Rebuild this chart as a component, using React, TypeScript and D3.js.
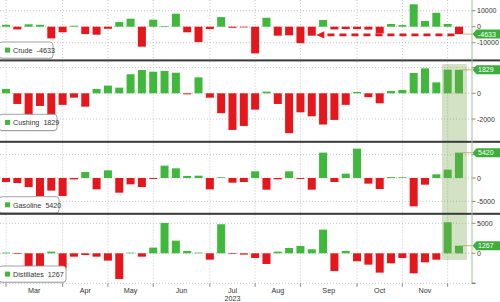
import React from "react";
import * as d3 from "d3";

// ---- data (weekly changes, thousand barrels) ----
const firstWeek = "2023-02-24";
const crude = [1200, -1700, 1500, 1200, -7300, -3500, 600, -4600, -5000, -1300, 2900, 5000, -12500, 4400, 300, 8100, -3500, -9600, -1500, 6000, -700, -300, -16700, 5600, -5600, -5400, -10300, -5600, 4200, -1700, -1500, -1500, -1800, -4200, 1700, 1000, 14000, 3600, 8700, 1700, -4633];
const cushing = [340, -830, -1700, -985, -1700, -900, -340, -1040, 340, 600, 440, 1480, 1810, 1680, 1740, 1600, -80, 1240, -340, -1550, -2850, -2540, -1270, 130, -830, -3100, -1480, -1790, -2430, -2070, -900, 100, -300, -780, 180, 260, 1580, 1940, 850, 1840, 1829];
const gasoline = [-860, -1070, -1930, -3850, -2700, -3850, -290, 1290, -2430, 1640, -3140, -1360, -1930, -200, 2640, 2070, 430, 500, -2430, 100, -1000, -860, 1430, -2500, -290, 1430, -200, -2500, 5430, -860, 930, 6280, -1210, -2360, 200, 50, -6070, -1430, 790, 1790, 5420];
const distillates = [100, -100, -2700, -2700, 280, -2500, -560, -280, -560, -1220, -4280, 50, -560, 950, 5060, 2110, 390, 50, -1060, 4840, -50, -220, -780, -1780, 280, 890, 1220, 670, 3950, -2950, 390, -1330, -1890, -3220, -1670, -780, -3340, -1500, -1060, 5170, 1267];

const seriesNames = ["Crude", "Cushing", "Gasoline", "Distillates"];
const lastLabels = ["-4633", "1829", "5420", "1267"];
const gridTicks = [
  [-10000, 0, 10000],
  [-2000, 0, 2000],
  [-5000, 0, 5000],
  [-5000, 0, 5000],
];
const shownTickLabels = [
  [10000, 0, -10000],
  [0, -2000],
  [0, -5000],
  [5000, 0],
];
const yearLabel = "2023";
const yearUnderMonth = "Jul";
const highlightWeeks = [39, 40];
const arrowWeeks = [39.6, 27.4]; // dashed arrow from -> to (at last crude level)

const allSeries = [crude, cushing, gasoline, distillates];

// ---- layout ----
const W = 500;
const H = 302;
const plotRight = 472;
const panels = [
  { top: 0, bottom: 59.5, domain: [-20500, 16690], legendY: 42, legendW: 54 },
  { top: 61.5, bottom: 141, domain: [-3711, 2474], legendY: 114.3, legendW: 58 },
  { top: 142.5, bottom: 213, domain: [-7490, 7597], legendY: 196.7, legendW: 60 },
  { top: 214.5, bottom: 283.3, domain: [-5000, 6468], legendY: 266, legendW: 67 },
];
const separators = [60.4, 141.8, 213.8];

const GREEN = "#3fb83c";
const RED = "#e6171c";
const FLAG = "#3cae3a";
const FONT = "'Liberation Sans', Arial, sans-serif";
const TXT = "#333";

export default function App() {
  const n = crude.length;
  const start = new Date(firstWeek + "T00:00:00");
  const dates = d3.range(n).map((i) => d3.timeDay.offset(start, 7 * i));
  // last week of each month -> gridline
  const gridIdx = dates
    .map((d, i) => (i + 1 < n && dates[i + 1].getMonth() !== d.getMonth() ? i : -1))
    .filter((i) => i >= 0);
  const fmtMonth = d3.timeFormat("%b");

  const x = d3.scaleLinear().domain([-0.53, 41.15]).range([0, plotRight]);
  const barW = 8;

  const monthLabels = gridIdx.slice(0, -1).map((g, k) => ({
    label: fmtMonth(dates[g + 1]),
    pos: (x(g) + x(gridIdx[k + 1])) / 2,
  }));

  const hx0 = x(highlightWeeks[0]) - 5.7;
  const hx1 = x(highlightWeeks[highlightWeeks.length - 1]) + 8;

  return (
    <svg
      width={W}
      height={H}
      style={{ position: "fixed", left: 0, top: 0, background: "#fff" }}
      fontFamily={FONT}
    >
      <rect x={0} y={0} width={W} height={H} fill="#fff" />
      {panels.map((p, pi) => {
        const data = allSeries[pi];
        const y = d3.scaleLinear().domain(p.domain).range([p.bottom, p.top]);
        const y0 = y(0);
        return (
          <g key={pi}>
            {/* horizontal gridlines */}
            {gridTicks[pi].map((t) => (
              <line
                key={"h" + t}
                x1={0}
                x2={plotRight}
                y1={y(t)}
                y2={y(t)}
                stroke="#b8b8b8"
                strokeWidth={0.8}
                strokeDasharray="1,2"
              />
            ))}
            {/* vertical gridlines */}
            {gridIdx.map((g) => (
              <line
                key={"v" + g}
                x1={x(g)}
                x2={x(g)}
                y1={p.top}
                y2={p.bottom}
                stroke="#b8b8b8"
                strokeWidth={0.8}
                strokeDasharray="1,2"
              />
            ))}
            {/* bars */}
            {data.map((v, i) => {
              const yv = y(v);
              const h = Math.max(Math.abs(yv - y0), 0.7);
              return (
                <rect
                  key={i}
                  x={x(i) - barW / 2}
                  y={v >= 0 ? y0 - h : y0}
                  width={barW}
                  height={h}
                  fill={v >= 0 ? GREEN : RED}
                />
              );
            })}
            {/* last value line */}
            <line
              x1={x(n - 1) + barW / 2}
              x2={plotRight}
              y1={y(data[n - 1])}
              y2={y(data[n - 1])}
              stroke="#c99a5c"
              strokeWidth={0.8}
            />
            {/* axis ticks and labels */}
            {gridTicks[pi].map((t) => (
              <line key={"t" + t} x1={plotRight} x2={plotRight + 3.5} y1={y(t)} y2={y(t)} stroke="#666" strokeWidth={0.8} />
            ))}
            {shownTickLabels[pi].map((t) => (
              <text key={"l" + t} x={plotRight + 5} y={y(t) + 2.5} fontSize={7} fill={TXT}>
                {String(t)}
              </text>
            ))}
            {/* legend */}
            <rect
              x={-1}
              y={p.legendY + 0.8}
              width={p.legendW}
              height={16.5}
              rx={3}
              fill="#999"
              opacity={0.35}
            />
            <rect
              x={-1}
              y={p.legendY}
              width={p.legendW}
              height={16.2}
              rx={3}
              fill="#fff"
              stroke="#8a8a8a"
              strokeWidth={0.8}
            />
            <rect x={5} y={p.legendY + 5.6} width={5} height={5} fill={GREEN} />
            <text x={13} y={p.legendY + 10.8} fontSize={7.2} fill={TXT}>
              {seriesNames[pi]}
              <tspan dx={4}>{lastLabels[pi]}</tspan>
            </text>
          </g>
        );
      })}

      {/* crude dashed arrow annotation */}
      {(() => {
        const p = panels[0];
        const y = d3.scaleLinear().domain(p.domain).range([p.bottom, p.top]);
        const ya = y(crude[n - 1]) + 0.8;
        const xFrom = x(arrowWeeks[0]);
        const xTo = x(arrowWeeks[1]);
        return (
          <g>
            <line
              x1={xFrom}
              x2={xTo + 7}
              y1={ya}
              y2={ya}
              stroke={RED}
              strokeWidth={2.6}
              strokeDasharray="7,5"
            />
            <path
              d={`M${xTo},${ya} L${xTo + 8},${ya - 3.6} L${xTo + 8},${ya + 3.6} Z`}
              fill={RED}
            />
          </g>
        );
      })()}

      {/* highlight */}
      <rect
        x={hx0}
        y={64}
        width={hx1 - hx0}
        height={196}
        rx={1.5}
        fill="#7aa34e"
        opacity={0.33}
      />

      {/* separators */}
      {separators.map((s) => (
        <rect key={s} x={0} y={s - 1} width={W} height={2} fill="#3a3a3a" />
      ))}

      {/* right axis line */}
      <line x1={plotRight} x2={plotRight} y1={0} y2={panels[3].bottom} stroke="#9cc493" strokeWidth={1} />

      {/* value flags */}
      {panels.map((p, pi) => {
        const y = d3.scaleLinear().domain(p.domain).range([p.bottom, p.top]);
        const yc = y(allSeries[pi][n - 1]);
        const x0 = plotRight + 0.5;
        return (
          <g key={"f" + pi}>
            <path
              d={`M${x0},${yc} L${x0 + 4},${yc - 4.5} L${W},${yc - 4.5} L${W},${yc + 4.5} L${x0 + 4},${yc + 4.5} Z`}
              fill={FLAG}
            />
            <text x={x0 + 5.5} y={yc + 2.6} fontSize={7} fill="#fff">
              {lastLabels[pi]}
            </text>
          </g>
        );
      })}

      {/* bottom x axis ticks and month labels */}
      {gridIdx.map((g) => (
        <line key={"bt" + g} x1={x(g)} x2={x(g)} y1={panels[3].bottom} y2={panels[3].bottom + 3.5} stroke="#666" strokeWidth={0.8} />
      ))}
      <line x1={plotRight} x2={plotRight + 3.5} y1={panels[3].bottom} y2={panels[3].bottom} stroke="#666" strokeWidth={0.8} />
      {monthLabels.map((m) => (
        <text key={m.label} x={m.pos} y={293} fontSize={7.2} fill={TXT} textAnchor="middle">
          {m.label}
        </text>
      ))}
      {monthLabels
        .filter((m) => m.label === yearUnderMonth)
        .map((m) => (
          <text key="yr" x={m.pos} y={300.5} fontSize={7.2} fill={TXT} textAnchor="middle">
            {yearLabel}
          </text>
        ))}
    </svg>
  );
}
